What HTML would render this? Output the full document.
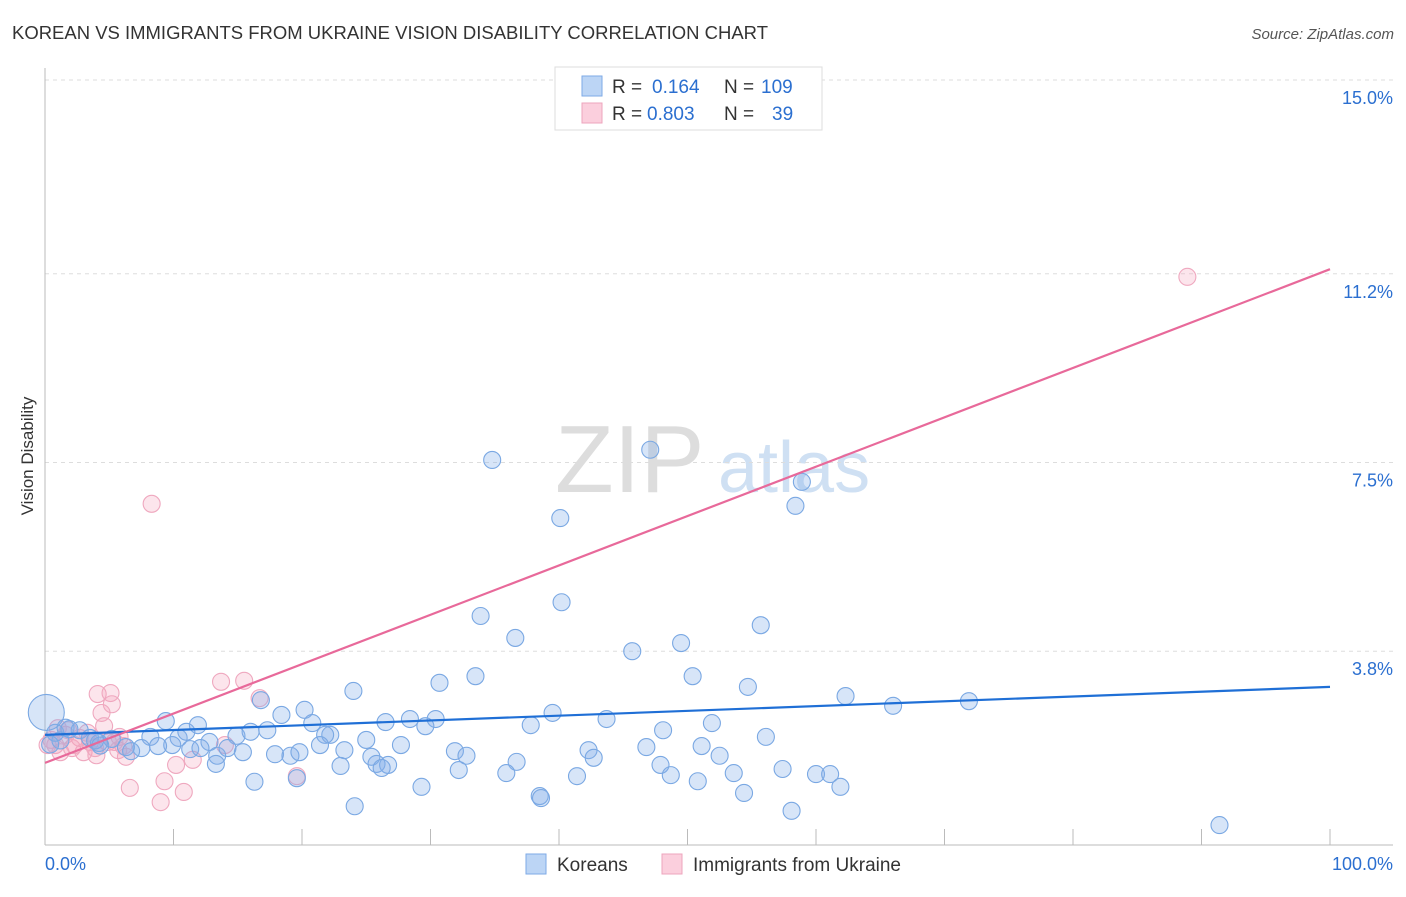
<!DOCTYPE html>
<html><head><meta charset="utf-8">
<style>
body{margin:0;background:#fff;font-family:"Liberation Sans",sans-serif;}
svg text{font-family:"Liberation Sans",sans-serif;}
</style></head>
<body>
<svg id="chart" width="1406" height="892" viewBox="0 0 1406 892" xmlns="http://www.w3.org/2000/svg">
<text x="12" y="39" font-size="18.5" fill="#333" textLength="756" lengthAdjust="spacingAndGlyphs">KOREAN VS IMMIGRANTS FROM UKRAINE VISION DISABILITY CORRELATION CHART</text>
<text x="1394" y="39" font-size="15" fill="#555" text-anchor="end" font-style="italic">Source: ZipAtlas.com</text>
<g>
<text x="555" y="492" font-size="96" fill="#ddd" font-family="Liberation Serif, serif">ZIP</text>
<text x="718" y="492" font-size="72" fill="#cfe0f3">atlas</text>
</g>
<g id="grid"></g>
<g id="axes"></g>
<g id="pts"></g>
<g id="lines"></g>
<text transform="translate(33,456) rotate(-90)" font-size="17" fill="#333" text-anchor="middle">Vision Disability</text>
<g>
<rect x="555" y="67" width="267" height="63" fill="#fff" stroke="#ddd"/>
<rect x="582" y="76" width="20" height="20" fill="#bcd5f5" stroke="#7eaae6"/>
<rect x="582" y="103" width="20" height="20" fill="#fbcfdd" stroke="#eea4bd"/>
<text x="612" y="93" font-size="19" fill="#333">R =</text>
<text x="652" y="93" font-size="19" fill="#2b6fd0">0.164</text>
<text x="724" y="93" font-size="19" fill="#333">N =</text>
<text x="761" y="93" font-size="19" fill="#2b6fd0">109</text>
<text x="612" y="120" font-size="19" fill="#333">R =</text>
<text x="647" y="120" font-size="19" fill="#2b6fd0">0.803</text>
<text x="724" y="120" font-size="19" fill="#333">N =</text>
<text x="772" y="120" font-size="19" fill="#2b6fd0">39</text>
</g>
<g>
<rect x="526" y="854" width="20" height="20" fill="#bcd5f5" stroke="#7eaae6"/>
<text x="557" y="871" font-size="19" fill="#333">Koreans</text>
<rect x="662" y="854" width="20" height="20" fill="#fbcfdd" stroke="#eea4bd"/>
<text x="693" y="871" font-size="19" fill="#333">Immigrants from Ukraine</text>
</g>
</svg>
<script>
const yTicks=[3.8,7.5,11.2,15.0];
const yTickLabels=["3.8%","7.5%","11.2%","15.0%"];
const xTicks=[0,10,20,30,40,50,60,70,80,90,100];
const koreanX=[34.8,47.1,40.1,58.9,58.4,40.2,33.9,36.6,49.5,55.7,45.7,50.4,54.7,33.5,30.7,24.0,62.3,66.0,71.9,16.8,20.2,9.4,11.9,18.4,20.8,17.3,26.5,28.4,30.4,29.6,39.5,43.7,48.1,51.9,37.8,22.2,21.8,14.9,16.0,8.2,10.4,11.0,56.1,12.8,7.5,9.9,8.8,6.3,5.2,6.7,11.3,12.1,13.4,14.2,15.4,17.9,19.1,19.8,21.4,23.3,25.0,27.7,31.9,32.8,42.3,42.7,46.8,51.1,52.5,25.4,25.8,26.7,23.0,26.2,36.7,47.9,32.2,35.9,41.4,48.7,53.6,57.4,60.0,61.1,50.8,29.3,16.3,19.6,38.5,38.6,54.4,61.9,24.1,58.1,91.4,13.3,0.8,1.6,2.7,3.5,4.2,3.9,4.3,1.2,1.9,0.4,0.1];
const koreanY=[7.55,7.75,6.41,7.12,6.65,4.76,4.49,4.06,3.96,4.31,3.80,3.31,3.10,3.31,3.18,3.02,2.92,2.73,2.82,2.84,2.65,2.43,2.35,2.55,2.39,2.25,2.41,2.47,2.47,2.33,2.59,2.47,2.25,2.39,2.35,2.16,2.16,2.14,2.22,2.12,2.10,2.22,2.12,2.02,1.90,1.96,1.94,1.92,2.08,1.84,1.88,1.90,1.75,1.90,1.82,1.78,1.75,1.82,1.96,1.86,2.06,1.96,1.84,1.75,1.86,1.71,1.92,1.94,1.75,1.73,1.59,1.57,1.55,1.51,1.63,1.57,1.47,1.41,1.35,1.37,1.41,1.49,1.39,1.39,1.25,1.14,1.24,1.31,0.96,0.92,1.02,1.14,0.76,0.67,0.39,1.59,2.2,2.3,2.25,2.1,2.0,2.05,1.95,2.05,2.27,1.97,2.6];
const ukraineX=[88.9,8.3,13.7,15.5,4.1,5.1,5.2,16.7,4.4,4.6,1.6,2.7,3.5,0.8,1.2,2.1,3.0,4.0,5.8,6.1,6.3,0.5,0.2,3.3,5.4,10.2,11.5,9.3,6.6,9.0,10.8,19.6,14.0,2.3,1.8,1.0,4.9,5.7,3.9];
const ukraineY=[11.14,6.69,3.20,3.22,2.96,2.98,2.76,2.88,2.59,2.33,2.16,2.10,2.02,1.96,1.82,1.90,1.82,1.76,2.12,1.94,1.73,2.06,1.96,2.20,2.02,1.57,1.67,1.25,1.12,0.84,1.04,1.35,1.96,1.96,2.25,2.29,2.02,1.86,1.90];
const koreanTrend=[2.16,3.10];
const ukraineTrend=[1.61,11.29];
const NS="http://www.w3.org/2000/svg";
const X=v=>45+v*12.85, Y=v=>845-v*51;
function mk(parent,tag,attrs){const e=document.createElementNS(NS,tag);for(const k in attrs)e.setAttribute(k,attrs[k]);parent.appendChild(e);return e;}
const grid=document.getElementById('grid'),axes=document.getElementById('axes'),pts=document.getElementById('pts'),lines=document.getElementById('lines');
yTicks.forEach((t,i)=>{
 const l=mk(grid,'line',{x1:45,x2:1393,y1:Y(t),y2:Y(t),stroke:'#ddd','stroke-dasharray':'4,4'});
 
 
 const tx=mk(axes,'text',{x:1393,y:Y(t)+24,'font-size':18,fill:'#2b6fd0','text-anchor':'end'});
 tx.textContent=yTickLabels[i];
 
 
});
mk(axes,'line',{x1:45,x2:45,y1:68,y2:845,stroke:'#bbb'});
mk(axes,'line',{x1:45,x2:1393,y1:845,y2:845,stroke:'#bbb'});
xTicks.forEach(t=>{
 const l=mk(axes,'line',{x1:X(t),x2:X(t),y1:829,y2:845,stroke:'#bbb'});
 
 
});
const xl=mk(axes,'text',{x:45,y:870,'font-size':18,fill:'#2b6fd0'});xl.textContent='0.0%';


const xr=mk(axes,'text',{x:1393,y:870,'font-size':18,fill:'#2b6fd0','text-anchor':'end'});xr.textContent='100.0%';


ukraineX.forEach((x,i)=>{
 const c=mk(pts,'circle',{cx:X(x),cy:Y(ukraineY[i]),r:8.5,fill:'rgba(244,160,188,0.28)',stroke:'#efa8bf','stroke-width':1.1});
 
 
});
koreanX.forEach((x,i)=>{
 const big=i===koreanX.length-1;
 const c=mk(pts,'circle',{cx:X(x),cy:Y(koreanY[i]),r:big?18:8.5,fill:'rgba(130,175,232,0.32)',stroke:'#7aa8e3','stroke-width':1.1});
 
 
});
const lb=mk(lines,'line',{x1:X(0),y1:Y(koreanTrend[0]),x2:X(100),y2:Y(koreanTrend[1]),stroke:'#1f6fd6','stroke-width':2.2});


const lp=mk(lines,'line',{x1:X(0),y1:Y(ukraineTrend[0]),x2:X(100),y2:Y(ukraineTrend[1]),stroke:'#e8699a','stroke-width':2.2});


</script>
</body></html>
